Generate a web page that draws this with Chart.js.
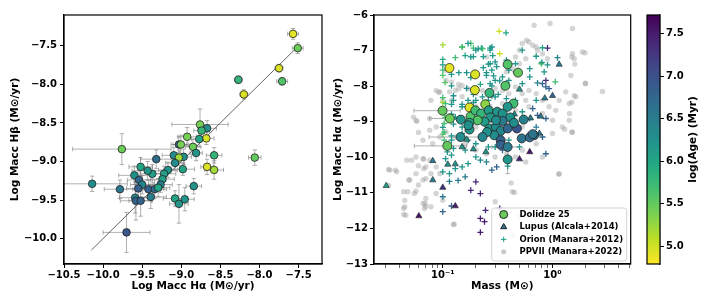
<!DOCTYPE html>
<html>
<head>
<meta charset="utf-8">
<script src="https://cdn.jsdelivr.net/npm/chart.js@4.4.0/dist/chart.umd.min.js"></script>
<style>
  html, body { margin: 0; padding: 0; background: #fff; }
  #wrap { position: relative; width: 714px; height: 306px; overflow: hidden; }
  #wrap canvas { position: absolute; top: 0; }
</style>
</head>
<body>
<div id="wrap">
  <canvas id="left" width="330" height="306" style="left:0"></canvas>
  <canvas id="right" width="306" height="306" style="left:330px"></canvas>
  <canvas id="cbar" width="78" height="306" style="left:636px"></canvas>
</div>
<script>
// colour scale range (log age)
const ageMin = 4.79, ageMax = 7.72;

// left panel: [log Macc Ha, log Macc Hb, err Ha, err Hb, log age]
const accHaHb = [
  [-7.57, -7.345, 0.07, 0.07, 4.9], [-7.51, -7.53, 0.07, 0.07, 5.45], [-7.75, -7.79, 0.05, 0.05, 4.95],
  [-7.71, -7.96, 0.07, 0.05, 5.6], [-8.27, -7.94, 0.05, 0.05, 5.8], [-8.20, -8.13, 0.05, 0.06, 4.95],
  [-8.76, -8.52, 0.36, 0.2, 5.4], [-8.67, -8.57, 0.12, 0.1, 6.3], [-8.74, -8.60, 0.1, 0.08, 5.8],
  [-8.68, -8.70, 0.1, 0.08, 4.95], [-8.77, -8.71, 0.1, 0.1, 6.0], [-8.925, -8.68, 0.12, 0.12, 5.4],
  [-8.85, -8.81, 0.1, 0.1, 5.45], [-9.03, -8.78, 0.1, 0.1, 6.9], [-9.005, -8.78, 0.1, 0.12, 5.4],
  [-8.81, -8.89, 0.08, 0.1, 6.2], [-8.97, -8.94, 0.1, 0.1, 6.25], [-9.095, -8.92, 0.15, 0.1, 6.3],
  [-9.03, -8.95, 0.1, 0.1, 5.2], [-9.08, -9.02, 0.12, 0.1, 6.3], [-8.98, -9.10, 0.15, 0.08, 6.0],
  [-8.58, -8.92, 0.1, 0.1, 5.8], [-8.67, -9.07, 0.08, 0.1, 4.95], [-8.58, -9.11, 0.12, 0.12, 5.2],
  [-9.17, -9.11, 0.12, 0.1, 6.2], [-9.22, -9.16, 0.15, 0.1, 6.1], [-9.24, -9.23, 0.15, 0.1, 6.1],
  [-9.265, -9.30, 0.15, 0.1, 6.5], [-9.32, -8.97, 0.2, 0.12, 6.7], [-9.37, -9.16, 0.15, 0.12, 6.1],
  [-9.43, -9.12, 0.2, 0.12, 6.2], [-9.52, -9.07, 0.15, 0.12, 6.0], [-9.60, -9.18, 0.2, 0.12, 6.25],
  [-9.54, -9.24, 0.15, 0.12, 6.75], [-9.50, -9.30, 0.15, 0.12, 6.4], [-9.55, -9.35, 0.15, 0.12, 6.85],
  [-9.42, -9.36, 0.2, 0.12, 6.8], [-9.34, -9.36, 0.15, 0.12, 6.75], [-9.295, -9.34, 0.15, 0.12, 6.0],
  [-9.785, -9.36, 0.2, 0.12, 6.55], [-9.39, -9.46, 0.2, 0.15, 6.5], [-9.59, -9.47, 0.2, 0.2, 6.4],
  [-9.58, -9.51, 0.2, 0.25, 6.8], [-9.52, -9.51, 0.15, 0.2, 6.8], [-9.76, -8.84, 0.63, 0.2, 5.45],
  [-9.70, -9.92, 0.3, 0.26, 6.95], [-9.08, -9.48, 0.15, 0.1, 6.0], [-9.03, -9.55, 0.12, 0.25, 6.2],
  [-8.955, -9.49, 0.12, 0.15, 6.2], [-8.84, -9.32, 0.1, 0.1, 6.2], [-10.14, -9.29, 0.45, 0.1, 6.3],
  [-8.06, -8.95, 0.08, 0.1, 5.5]
];
const oneToOne = [-10.15, -7.5];

// right panel, Dolidze 25: [mass, log Macc, log age, mass err, Macc err]
const dolidze = [
  [0.115, -7.49, 4.9, 0, 0], [0.197, -7.67, 4.95, 0, 0], [0.196, -8.11, 4.95, 0, 0], [0.39, -7.39, 5.6, 0, 0],
  [0.485, -7.62, 5.5, 0, 0], [0.372, -7.99, 5.6, 0, 0], [0.266, -8.19, 5.8, 0, 0], [0.175, -8.60, 4.95, 0, 0],
  [0.244, -8.51, 5.3, 0, 0], [0.44, -8.49, 5.7, 0, 0], [0.0995, -8.69, 5.5, 0.045, 0], [0.116, -8.91, 5.45, 0.04, 0],
  [0.146, -8.94, 6.2, 0, 0], [0.179, -8.85, 5.6, 0, 0], [0.198, -8.68, 5.7, 0, 0], [0.223, -8.77, 5.8, 0, 0],
  [0.262, -8.68, 6.1, 0, 0], [0.313, -8.72, 6.2, 0, 0], [0.351, -8.77, 6.25, 0, 0], [0.39, -8.58, 6.2, 0, 0],
  [0.412, -8.88, 6.25, 0, 0], [0.351, -8.98, 6.5, 0, 0], [0.271, -8.88, 6.15, 0, 0], [0.24, -9.0, 6.1, 0, 0],
  [0.208, -8.96, 5.6, 0, 0], [0.175, -9.03, 5.95, 0, 0], [0.266, -9.19, 6.2, 0, 0], [0.305, -9.15, 6.3, 0, 0],
  [0.337, -9.26, 6.4, 0, 0], [0.294, -9.38, 6.3, 0, 0], [0.253, -9.29, 6.25, 0, 0], [0.23, -9.43, 6.4, 0, 0],
  [0.175, -9.22, 6.2, 0, 0], [0.145, -9.43, 6.3, 0.07, 0], [0.171, -9.10, 6.25, 0, 0], [0.337, -9.52, 6.8, 0, 0.1],
  [0.337, -9.65, 6.8, 0, 0], [0.39, -9.71, 6.5, 0.11, 0], [0.39, -10.06, 6.2, 0, 0.4], [0.11, -9.68, 5.5, 0.055, 0],
  [0.474, -9.19, 6.95, 0, 0], [0.524, -9.47, 6.6, 0, 0], [0.546, -8.94, 6.45, 0, 0], [0.68, -9.38, 6.6, 0, 0],
  [0.62, -9.44, 6.7, 0, 0], [0.39, -9.19, 6.75, 0, 0], [0.445, -9.03, 6.3, 0, 0], [0.305, -8.96, 6.3, 0, 0],
  [0.66, -9.35, 6.6, 0, 0]
];

// Lupus (Alcala+2014): [mass, log Macc, log age]
const lupus = [
  [0.0305, -10.80, 6.1], [0.0605, -11.65, 7.55], [0.081, -10.10, 6.5], [0.081, -10.64, 6.5], [0.10, -10.85, 7.3],
  [0.13, -11.37, 7.5], [0.111, -10.2, 6.2], [0.13, -10.19, 6.2], [0.15, -9.71, 6.2], [0.247, -9.85, 6.2],
  [0.5, -8.09, 6.2], [0.62, -9.85, 7.5], [0.5, -10.05, 7.5], [0.85, -8.34, 6.5], [1.0, -8.27, 6.8],
  [1.15, -7.39, 6.5], [0.76, -9.33, 6.6], [0.63, -8.9, 6.5], [0.19, -9.77, 6.2], [0.165, -9.5, 6.2],
  [0.45, -8.79, 6.3], [0.78, -8.85, 6.5], [0.17, -9.22, 6.2]
];

// Orion (Manara+2012): [mass, log Macc, log age]
const orion = [
  [0.1, -6.84, 5.2], [0.15, -6.9, 5.4], [0.18, -6.8, 5.7], [0.19, -6.93, 5.7], [0.225, -6.93, 5.95], [0.27, -6.93, 6.15],
  [0.327, -6.46, 5.0], [0.377, -6.5, 6.0], [0.1, -7.25, 5.95], [0.13, -7.2, 5.7], [0.16, -7.14, 6.0], [0.19, -7.17, 6.15],
  [0.234, -7.17, 6.15], [0.285, -7.14, 6.15], [0.1, -7.4, 6.15], [0.1, -7.55, 5.7], [0.1, -7.7, 5.6], [0.105, -7.9, 5.6],
  [0.12, -7.67, 6.15], [0.14, -7.62, 6.15], [0.165, -7.62, 6.2], [0.18, -7.76, 6.2], [0.234, -7.48, 6.15], [0.26, -7.38, 6.15],
  [0.31, -7.45, 6.2], [0.25, -7.62, 6.2], [0.29, -7.71, 6.2], [0.33, -7.85, 6.2], [0.22, -7.95, 5.95], [0.12, -7.99, 6.2],
  [0.165, -8.06, 6.3], [0.19, -8.23, 6.3], [0.28, -7.99, 6.2], [0.28, -8.27, 6.3], [0.32, -8.23, 6.2], [0.125, -8.27, 6.3],
  [0.1, -8.32, 5.7], [0.1, -8.46, 5.2], [0.12, -8.51, 6.2], [0.15, -8.51, 6.2], [0.19, -8.46, 6.2], [0.1, -8.7, 5.9],
  [0.105, -8.88, 5.6], [0.12, -8.79, 6.2], [0.125, -9.07, 6.2], [0.1, -9.16, 6.2], [0.1, -9.35, 5.6], [0.12, -9.4, 6.2],
  [0.33, -7.09, 5.0], [0.53, -6.99, 6.2], [0.71, -7.16, 6.2], [0.79, -7.37, 5.6], [0.9, -6.93, 7.4], [1.11, -7.2, 6.4],
  [0.84, -7.6, 6.2], [0.62, -7.51, 6.2], [0.62, -7.74, 6.2], [0.53, -7.93, 6.2], [0.73, -7.91, 6.5], [0.87, -8.02, 6.8],
  [0.93, -8.07, 6.8], [1.06, -7.88, 5.7], [0.81, -7.93, 6.8], [0.87, -7.84, 7.3], [0.71, -8.4, 6.2], [0.66, -8.63, 6.8],
  [0.73, -8.82, 6.8], [0.62, -8.91, 6.2], [0.87, -8.91, 6.8], [0.71, -9.15, 6.5], [0.53, -8.72, 6.2], [0.46, -8.4, 6.2],
  [0.81, -9.43, 6.8], [0.87, -9.9, 6.8], [0.31, -10.27, 6.8], [0.39, -10.25, 6.2], [0.28, -10.36, 6.8], [0.2, -10.69, 7.4],
  [0.22, -11.02, 7.4], [0.18, -10.93, 7.4], [0.16, -10.55, 6.5], [0.13, -10.32, 6.2], [0.138, -10.65, 6.5], [0.115, -10.46, 6.2],
  [0.1, -10.41, 6.2], [0.1, -11.11, 6.5], [0.1, -11.53, 6.8], [0.12, -11.37, 6.8], [0.245, -11.49, 7.4], [0.22, -11.72, 7.5],
  [0.24, -11.81, 7.5], [0.22, -12.11, 7.5], [0.33, -11.44, 7.3], [0.115, -10.68, 6.5], [0.106, -10.04, 6.2], [0.12, -9.94, 6.2],
  [0.11, -9.85, 6.2], [0.125, -9.75, 6.2], [0.16, -9.8, 6.2], [0.2, -9.99, 6.2], [0.22, -10.08, 6.4], [0.25, -10.13, 6.4],
  [0.17, -10.18, 6.2], [0.15, -10.27, 6.2], [0.103, -9.52, 5.7], [0.103, -9.29, 5.7], [0.103, -9.05, 5.7], [0.12, -9.52, 6.2],
  [0.15, -9.33, 6.2], [0.17, -9.52, 6.2], [0.2, -9.62, 6.2], [0.26, -9.71, 6.2], [0.3, -9.71, 6.2], [0.35, -9.8, 6.8],
  [0.4, -9.52, 6.2], [0.5, -9.71, 6.2], [0.53, -9.43, 6.2], [0.15, -9.15, 6.2], [0.13, -8.87, 6.2], [0.103, -8.77, 5.7],
  [0.106, -8.49, 5.7], [0.125, -8.4, 6.2], [0.15, -8.58, 6.2], [0.17, -8.4, 6.2], [0.2, -8.4, 6.2], [0.23, -8.3, 6.2],
  [0.26, -8.4, 6.2], [0.3, -8.3, 6.2], [0.38, -8.35, 6.2], [0.27, -7.93, 6.2], [0.3, -7.84, 6.2], [0.35, -7.74, 6.2],
  [0.4, -7.84, 6.2], [0.25, -7.7, 6.2], [0.28, -7.55, 6.2], [0.4, -7.55, 6.2], [0.46, -7.6, 6.2], [0.27, -7.37, 6.2],
  [0.3, -7.32, 6.2], [0.38, -7.27, 6.2], [0.46, -7.37, 6.2], [0.18, -7.18, 6.2], [0.2, -6.99, 6.2], [0.23, -6.95, 5.7],
  [0.27, -6.99, 6.2], [0.15, -6.9, 5.7], [0.17, -6.8, 6.2], [0.21, -6.95, 6.2], [0.28, -6.9, 6.2], [0.81, -6.92, 6.0],
  [0.8, -7.33, 6.2], [0.9, -7.4, 6.2]
];

// PPVII (Manara+2022): [mass, log Macc]
const ppvii = [
  [0.68, -6.29], [0.95, -6.24], [1.52, -6.38], [0.5, -6.99], [0.53, -6.8], [0.58, -6.71], [0.61, -6.76], [0.66, -6.85],
  [0.71, -6.9], [0.73, -6.99], [0.81, -7.09], [0.9, -7.23], [0.57, -7.23], [0.5, -7.37], [0.43, -7.51], [0.38, -7.6],
  [0.46, -7.18], [1.52, -7.09], [1.58, -7.23], [1.87, -7.04], [1.98, -7.06], [1.5, -7.18], [1.6, -7.38], [2.0, -7.93],
  [1.99, -7.92], [1.47, -7.7], [1.32, -8.16], [1.63, -8.3], [1.42, -8.49], [1.15, -8.4], [1.07, -8.68], [1.23, -9.15],
  [1.52, -9.29], [1.42, -8.96], [0.93, -8.58], [0.81, -8.4], [0.71, -8.21], [0.61, -8.12], [0.53, -8.21], [0.57, -8.4],
  [0.46, -8.02], [0.4, -8.21], [0.35, -8.12], [0.3, -8.07], [0.27, -8.21], [0.23, -8.12], [0.2, -8.21], [0.17, -8.07],
  [0.15, -7.98], [0.13, -8.12], [0.115, -8.16], [0.094, -8.16], [0.1, -8.4], [0.12, -8.4], [0.15, -8.3], [0.2, -8.58],
  [0.27, -8.58], [0.35, -8.49], [0.46, -8.68], [0.61, -8.58], [0.81, -8.77], [1.0, -8.96], [1.0, -9.33], [0.71, -9.62],
  [0.53, -9.8], [0.46, -9.99], [0.57, -10.13], [0.81, -9.99], [1.15, -10.46], [0.43, -10.97], [0.3, -11.25], [0.33, -11.67],
  [0.5, -11.67], [0.43, -12.19], [0.127, -11.88], [0.094, -10.46], [0.087, -10.27], [0.076, -10.08], [0.066, -10.04], [0.07, -10.27],
  [0.078, -10.46], [0.066, -10.64], [0.057, -10.46], [0.05, -10.64], [0.048, -10.97], [0.055, -11.02], [0.045, -11.21], [0.044, -11.44],
  [0.046, -11.63], [0.066, -11.3], [0.068, -11.44], [0.07, -11.16], [0.078, -11.39], [0.087, -11.02], [0.1, -11.21], [0.033, -10.36],
  [0.038, -10.41], [0.032, -10.79], [0.047, -10.08], [0.052, -10.08], [0.057, -9.99], [0.054, -8.87], [0.057, -8.96], [0.076, -8.91],
  [0.076, -9.24], [0.087, -9.15], [0.081, -9.62], [0.094, -9.43], [0.066, -9.52], [0.087, -8.12], [0.078, -8.4], [0.107, -7.55],
  [0.107, -7.84], [0.12, -7.88], [0.14, -8.07], [0.107, -9.29], [0.13, -9.43], [0.16, -9.62], [0.2, -9.8], [0.25, -9.9],
  [0.3, -9.99], [0.38, -9.9], [0.28, -9.33], [0.27, -8.96], [0.4, -9.05], [0.53, -9.15], [0.61, -9.33], [0.2, -9.15],
  [0.15, -8.96], [2.85, -8.15], [1.58, -8.27], [1.5, -8.45], [1.43, -8.77], [1.29, -9.21], [1.5, -9.3], [1.14, -10.48],
  [0.42, -10.72], [0.45, -10.99], [0.032, -10.34], [0.037, -10.36], [0.049, -10.64], [0.044, -10.97], [0.045, -11.39], [0.044, -11.61],
  [0.067, -10.05], [0.06, -10.24], [0.067, -10.32], [0.07, -10.6], [0.06, -10.78], [0.057, -10.95], [0.069, -11.3], [0.07, -11.38],
  [0.125, -11.89], [0.092, -8.18], [0.139, -7.95], [0.25, -7.18], [0.058, -8.99], [0.06, -9.3]
];

const VIRIDIS = ['#440154', '#482475', '#414487', '#355f8d', '#2a788e', '#21918c',
                 '#22a884', '#44bf70', '#7ad151', '#bddf26', '#fde725'];

function rgb(h) {
  return [1, 3, 5].map(i => parseInt(h.slice(i, i + 2), 16));
}

function viridis(t) {
  t = Math.max(0, Math.min(1, t));
  const p = t * 10, i = Math.min(9, Math.floor(p)), f = p - i;
  const a = rgb(VIRIDIS[i]), b = rgb(VIRIDIS[i + 1]);
  const c = a.map((v, k) => Math.round(v + (b[k] - v) * f));
  return `rgb(${c[0]},${c[1]},${c[2]})`;
}

// reversed viridis: young = yellow, old = purple
function ageColor(a) {
  return viridis(1 - (a - ageMin) / (ageMax - ageMin));
}

function fmtMinus(v, d) {
  return (v < 0 ? '\u2212' : '') + Math.abs(v).toFixed(d);
}

function isDecade(v) {
  const l = Math.log10(v);
  return Math.abs(l - Math.round(l)) < 1e-6;
}

Chart.defaults.font.family = 'DejaVu Sans';
Chart.defaults.font.size = 10;
Chart.defaults.font.weight = 'bold';
Chart.defaults.color = '#000';

const frame = {
  id: 'frame',
  afterDraw(chart) {
    const { ctx, chartArea: a } = chart;
    ctx.save();
    ctx.strokeStyle = '#000';
    ctx.lineWidth = 1.2;
    ctx.strokeRect(a.left, a.top, a.width, a.height);
    ctx.restore();
  }
};

const errorBars = {
  id: 'errorBars',
  beforeDatasetsDraw(chart) {
    const { ctx, chartArea: a, scales: { x, y } } = chart;
    ctx.save();
    ctx.beginPath();
    ctx.rect(a.left, a.top, a.width, a.height);
    ctx.clip();
    ctx.strokeStyle = 'rgba(125,125,125,0.6)';
    ctx.lineWidth = 1;
    const cap = 2.2;
    chart.data.datasets.forEach(ds => {
      if (!ds.errX) return;
      ds.data.forEach((p, i) => {
        const px = x.getPixelForValue(p.x), py = y.getPixelForValue(p.y);
        const ex = ds.errX[i], ey = ds.errY[i];
        ctx.beginPath();
        if (ex) {
          const l = x.getPixelForValue(p.x - ex), r = x.getPixelForValue(p.x + ex);
          ctx.moveTo(l, py); ctx.lineTo(r, py);
          ctx.moveTo(l, py - cap); ctx.lineTo(l, py + cap);
          ctx.moveTo(r, py - cap); ctx.lineTo(r, py + cap);
        }
        if (ey) {
          const t = y.getPixelForValue(p.y + ey), b = y.getPixelForValue(p.y - ey);
          ctx.moveTo(px, t); ctx.lineTo(px, b);
          ctx.moveTo(px - cap, t); ctx.lineTo(px + cap, t);
          ctx.moveTo(px - cap, b); ctx.lineTo(px + cap, b);
        }
        ctx.stroke();
      });
    });
    ctx.restore();
  }
};

const legendBox = {
  id: 'legendBox',
  afterDatasetsDraw(chart) {
    const { ctx, chartArea: a } = chart;
    const w = 135, h = 53;
    const x0 = a.right - 4 - w, y0 = a.bottom - 3 - h;
    ctx.save();
    ctx.beginPath();
    ctx.roundRect(x0, y0, w, h, 2.5);
    ctx.fillStyle = 'rgba(255,255,255,0.85)';
    ctx.fill();
    ctx.strokeStyle = '#d4d4d4';
    ctx.lineWidth = 1;
    ctx.stroke();
    ctx.font = 'bold 8.5px "DejaVu Sans"';
    ctx.textBaseline = 'middle';
    chart.data.datasets.forEach((ds, i) => {
      const m = ds.legendMark;
      const yy = y0 + 6.5 + i * 12.45;
      ctx.fillStyle = m.fill;
      ctx.strokeStyle = m.stroke;
      Chart.helpers.drawPoint(ctx, { pointStyle: m.style, radius: m.radius, borderWidth: m.width, rotation: 0 }, x0 + 12, yy);
      ctx.fillStyle = '#000';
      ctx.fillText(ds.label, x0 + 27.7, yy);
    });
    ctx.restore();
  }
};

const cbarTitle = {
  id: 'cbarTitle',
  afterDraw(chart) {
    const { ctx, chartArea: a } = chart;
    ctx.save();
    ctx.translate(57.3, (a.top + a.bottom) / 2);
    ctx.rotate(-Math.PI / 2);
    ctx.font = 'bold 10.5px "DejaVu Sans"';
    ctx.fillStyle = '#000';
    ctx.textAlign = 'center';
    ctx.textBaseline = 'middle';
    ctx.fillText('log(Age) (Myr)', 0, 0);
    ctx.restore();
  }
};

function axisCommon() {
  return {
    grid: { display: true, drawOnChartArea: false, drawTicks: true, tickLength: 4, color: '#000', tickColor: '#000', tickWidth: 1 },
    border: { display: true, color: '#000', width: 1.2 }
  };
}

const titleFont = { family: 'DejaVu Sans', size: 10.5, weight: 'bold' };

// ---------- left panel ----------
new Chart(document.getElementById('left'), {
  type: 'scatter',
  data: {
    datasets: [
      {
        label: 'Dolidze 25',
        data: accHaHb.map(r => ({ x: r[0], y: r[1] })),
        errX: accHaHb.map(r => r[2]),
        errY: accHaHb.map(r => r[3]),
        pointRadius: 3.8,
        pointBackgroundColor: accHaHb.map(r => ageColor(r[4])),
        pointBorderColor: '#222',
        pointBorderWidth: 0.8
      },
      {
        label: '1:1',
        data: oneToOne.map(v => ({ x: v, y: v })),
        showLine: true,
        borderColor: '#555',
        borderWidth: 0.9,
        pointRadius: 0
      }
    ]
  },
  options: {
    responsive: false,
    animation: false,
    layout: { padding: { top: 15, right: 8, left: 0, bottom: 0 } },
    plugins: { legend: { display: false }, tooltip: { enabled: false } },
    scales: {
      x: {
        ...axisCommon(),
        min: -10.5, max: -7.2,
        ticks: { stepSize: 0.5, includeBounds: false, padding: 1, callback: v => fmtMinus(v, 1) },
        title: { display: true, text: 'Log Macc H\u03b1 (M\u2299/yr)', font: titleFont, padding: { top: 0, bottom: 13 } },
        afterFit: s => { s.height = 42; }
      },
      y: {
        ...axisCommon(),
        min: -10.33, max: -7.1,
        ticks: { stepSize: 0.5, includeBounds: false, padding: 3, callback: v => fmtMinus(v, 1) },
        title: { display: true, text: 'Log Macc H\u03b2 (M\u2299/yr)', font: titleFont, padding: { top: 8.7, bottom: 0 } },
        afterFit: s => { s.width = 64; }
      }
    }
  },
  plugins: [errorBars, frame]
});

// ---------- right panel ----------
new Chart(document.getElementById('right'), {
  type: 'scatter',
  data: {
    datasets: [
      {
        label: 'Dolidze 25',
        data: dolidze.map(r => ({ x: r[0], y: r[1] })),
        errX: dolidze.map(r => r[3]),
        errY: dolidze.map(r => r[4]),
        pointRadius: 4.5,
        pointBackgroundColor: dolidze.map(r => ageColor(r[2])),
        pointBorderColor: '#222',
        pointBorderWidth: 0.8,
        legendMark: { style: 'circle', radius: 4, width: 0.8, fill: '#6acd5b', stroke: '#222' }
      },
      {
        label: 'Lupus (Alcala+2014)',
        data: lupus.map(r => ({ x: r[0], y: r[1] })),
        pointStyle: 'triangle',
        pointRadius: 3.6,
        pointBackgroundColor: lupus.map(r => ageColor(r[2])),
        pointBorderColor: '#222',
        pointBorderWidth: 0.6,
        legendMark: { style: 'triangle', radius: 3.5, width: 0.6, fill: '#2c728e', stroke: '#222' }
      },
      {
        label: 'Orion (Manara+2012)',
        data: orion.map(r => ({ x: r[0], y: r[1] })),
        pointStyle: 'cross',
        pointRadius: 3,
        pointBorderColor: orion.map(r => ageColor(r[2])),
        pointBorderWidth: 1.3,
        legendMark: { style: 'cross', radius: 2.8, width: 1.2, fill: '#1fa187', stroke: '#1fa187' }
      },
      {
        label: 'PPVII (Manara+2022)',
        data: ppvii.map(r => ({ x: r[0], y: r[1] })),
        pointRadius: 2.7,
        pointBackgroundColor: 'rgba(150,150,150,0.4)',
        pointBorderWidth: 0,
        legendMark: { style: 'circle', radius: 2.5, width: 0, fill: 'rgba(150,150,150,0.5)', stroke: 'rgba(0,0,0,0)' }
      }
    ]
  },
  options: {
    responsive: false,
    animation: false,
    layout: { padding: { top: 15, right: 4, left: 0, bottom: 0 } },
    plugins: { legend: { display: false }, tooltip: { enabled: false } },
    scales: {
      x: {
        ...axisCommon(),
        type: 'logarithmic',
        min: 0.0236, max: 5.16,
        afterBuildTicks: s => {
          s.ticks = s.ticks.filter(t => {
            const m = t.value / Math.pow(10, Math.floor(Math.log10(t.value) + 1e-9));
            return Math.abs(m - Math.round(m)) < 1e-6;
          });
        },
        grid: { display: true, drawOnChartArea: false, drawTicks: true, tickLength: 4, color: '#000', tickColor: '#000',
                tickWidth: c => (c.tick && isDecade(c.tick.value) ? 1 : 0.6) },
        ticks: {
          autoSkip: false, maxRotation: 0, padding: 1,
          callback: v => {
            if (!isDecade(v)) return '';
            const e = Math.round(Math.log10(v));
            return e === -1 ? '10\u207b\u00b9' : e === 0 ? '10\u2070' : '';
          }
        },
        title: { display: true, text: 'Mass (M\u2299)', font: titleFont, padding: { top: 0, bottom: 13 } },
        afterFit: s => { s.height = 42; }
      },
      y: {
        ...axisCommon(),
        min: -13, max: -6,
        ticks: { stepSize: 1, padding: 2, callback: v => fmtMinus(v, 0) },
        title: { display: true, text: 'Log Macc H\u03b1 (M\u2299/yr)', font: titleFont, padding: { top: 2, bottom: 0 } },
        afterFit: s => { s.width = 44; }
      }
    }
  },
  plugins: [errorBars, legendBox, frame]
});

// ---------- colour bar ----------
new Chart(document.getElementById('cbar'), {
  type: 'bar',
  data: {
    labels: ['age'],
    datasets: [{
      data: [[ageMin, ageMax]],
      barPercentage: 1,
      categoryPercentage: 1,
      borderWidth: 0,
      backgroundColor: c => {
        const a = c.chart.chartArea;
        if (!a) return '#888';
        const g = c.chart.ctx.createLinearGradient(0, a.bottom, 0, a.top);
        for (let k = 0; k <= 20; k++) g.addColorStop(k / 20, viridis(1 - k / 20));
        return g;
      }
    }]
  },
  options: {
    responsive: false,
    animation: false,
    layout: { padding: { top: 15, right: 0, left: 11, bottom: 42 } },
    plugins: { legend: { display: false }, tooltip: { enabled: false } },
    scales: {
      x: { display: false },
      y: {
        ...axisCommon(),
        position: 'right',
        min: ageMin, max: ageMax,
        ticks: { stepSize: 0.5, includeBounds: false, padding: 2, callback: v => v.toFixed(1) },
        afterFit: s => { s.width = 54; }
      }
    }
  },
  plugins: [frame, cbarTitle]
});
</script>
</body>
</html>
